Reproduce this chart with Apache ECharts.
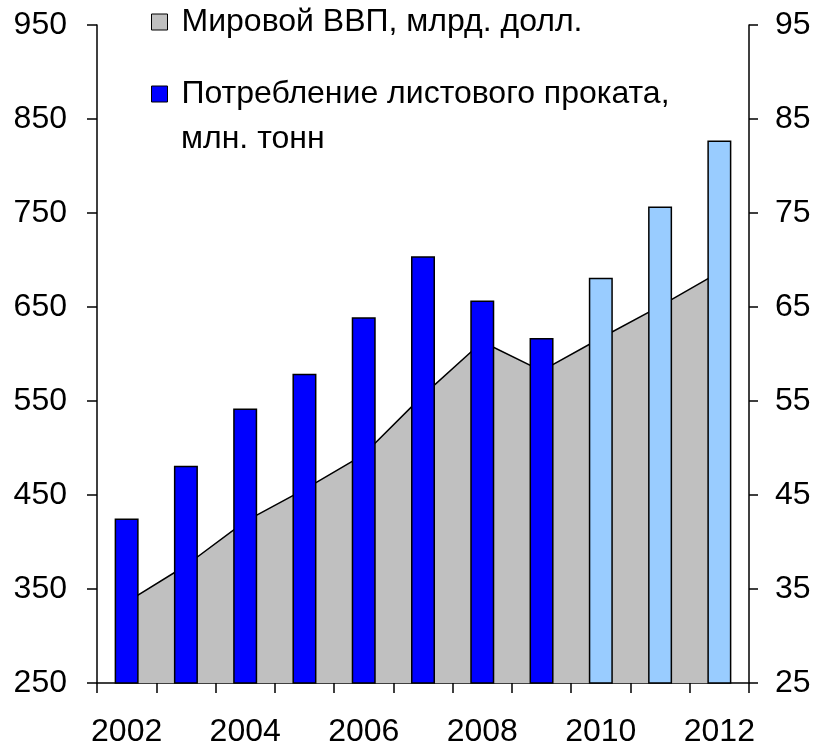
<!DOCTYPE html>
<html>
<head>
<meta charset="utf-8">
<script src="https://cdn.jsdelivr.net/npm/echarts@6/dist/echarts.min.js"></script>
<style>
  html, body { margin: 0; padding: 0; background: #fff; }
  #chart { width: 815px; height: 745px; }
</style>
</head>
<body>
<div id="chart"></div>
<script>
const years = ['2002','2003','2004','2005','2006','2007','2008','2009','2010','2011','2012'];
const gdp = [336, 375, 422, 456, 493, 556, 613, 582, 617, 651, 687];
const steel = [42.5, 48.1, 54.2, 57.9, 63.9, 70.4, 65.7, 61.7, 68.1, 75.7, 82.7];
const leftTicks = [250, 350, 450, 550, 650, 750, 850, 950];
const rightTicks = [25, 35, 45, 55, 65, 75, 85, 95];
const gdpName = 'Мировой ВВП, млрд. долл.';
const steelName = 'Потребление листового проката,';
const steelNameLine2 = 'млн. тонн';
const forecastStart = '2010';

const FONT = 'Liberation Sans, Arial, sans-serif';
const FS = 32;
const chart = echarts.init(document.getElementById('chart'), null, { renderer: 'canvas' });

const axisLineStyle = { color: '#000', width: 1.5 };
const legendCommon = {
  orient: 'vertical', left: 151, padding: 0,
  itemWidth: 16, itemHeight: 16, icon: 'rect',
  textStyle: { fontFamily: FONT, fontSize: FS, color: '#000', lineHeight: 32, padding: [0, 0, 0, 9] },
  selectedMode: false
};

const option = {
  animation: false,
  backgroundColor: '#fff',
  grid: { left: 97, right: 66, top: 25, bottom: 62, containLabel: false, outerBoundsMode: 'none' },
  legend: [
    Object.assign({}, legendCommon, {
      top: 6,
      data: [{ name: gdpName, itemStyle: { borderColor: '#000', borderWidth: 1 } }]
    }),
    Object.assign({}, legendCommon, {
      top: 78,
      data: [{ name: steelName, itemStyle: { borderColor: '#000', borderWidth: 1 } }]
    })
  ],
  graphic: [
    {
      type: 'text', left: 181, top: 123, silent: true,
      style: { text: steelNameLine2, fontFamily: FONT, fontSize: FS, fill: '#000' }
    }
  ],
  xAxis: {
    type: 'category',
    data: years,
    boundaryGap: true,
    axisLine: { lineStyle: axisLineStyle },
    axisTick: { show: true, interval: 0, length: 10, lineStyle: axisLineStyle },
    axisLabel: { interval: 1, fontFamily: FONT, fontSize: FS, color: '#000', margin: 33 },
    splitLine: { show: false }
  },
  yAxis: [
    {
      type: 'value', min: 250, max: 950,
      axisLine: { show: true, lineStyle: axisLineStyle },
      axisTick: { show: true, length: 10, lineStyle: axisLineStyle, customValues: leftTicks },
      axisLabel: { fontFamily: FONT, fontSize: FS, color: '#000', margin: 30, customValues: leftTicks },
      splitLine: { show: false }
    },
    {
      type: 'value', min: 25, max: 95, position: 'right',
      axisLine: { show: true, lineStyle: axisLineStyle },
      axisTick: { show: true, length: 9, lineStyle: axisLineStyle, customValues: rightTicks },
      axisLabel: { fontFamily: FONT, fontSize: FS, color: '#000', margin: 26, customValues: rightTicks },
      splitLine: { show: false }
    }
  ],
  series: [
    {
      name: gdpName,
      type: 'line',
      yAxisIndex: 0,
      data: gdp,
      symbol: 'none',
      z: 1,
      color: '#C0C0C0',
      lineStyle: { color: '#000', width: 1.5 },
      areaStyle: { color: '#C0C0C0', opacity: 1, origin: 'start' }
    },
    {
      name: steelName,
      type: 'bar',
      yAxisIndex: 1,
      barWidth: 24,
      z: 3,
      color: '#0000FF',
      itemStyle: { color: '#0000FF', borderColor: '#000', borderWidth: 1.5 },
      data: steel.map((v, i) => ({
        value: v,
        itemStyle: { color: years[i] >= forecastStart ? '#99CCFF' : '#0000FF' }
      }))
    }
  ]
};
chart.setOption(option);
</script>
</body>
</html>
